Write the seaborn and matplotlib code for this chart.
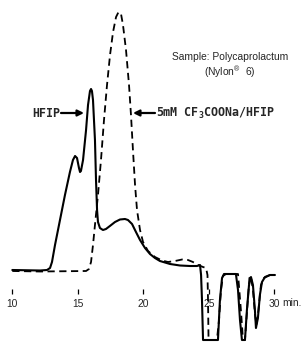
import matplotlib
matplotlib.use("Agg")
import matplotlib.pyplot as plt
import seaborn as sns
import pandas as pd

# ---- data (retention time in min, detector response in arbitrary units) ----
hfip_time = [10.00, 12.11, 12.65, 12.88, 13.03, 13.26, 13.64, 14.02, 14.40, 14.63,
             14.79, 14.94, 15.09, 15.17, 15.24, 15.40, 15.63, 15.78, 15.93, 16.01,
             16.08, 16.16, 16.31, 16.39, 16.47, 16.54, 16.69, 16.92, 17.15, 17.45,
             17.84, 18.22, 18.60, 18.83, 19.14, 19.44, 19.75, 20.13, 20.51, 20.89,
             21.27, 22.04, 22.80, 23.56, 24.10, 24.33, 24.41, 24.48, 24.56, 25.70,
             25.85, 26.01, 26.16, 27.07, 27.23, 27.38, 27.53, 27.76, 27.91, 28.07,
             28.22, 28.37, 28.52, 28.60, 28.75, 28.90, 29.06, 29.29, 29.67, 30.05]
hfip_resp = [0, -0.5, 0, 2, 8, 25, 50, 75, 98, 110,
             114, 112, 102, 98, 99, 110, 140, 165, 179, 181,
             179, 170, 130, 90, 60, 48, 42, 40, 41, 44,
             48, 50.5, 51, 50, 46, 38, 30, 22, 16, 12,
             9, 6, 4.5, 4, 4, 5, -5, -30, -70, -70,
             -30, -8, -4, -4, -20, -50, -70, -70, -40, -15,
             -7, -15, -40, -58, -48, -25, -12, -7, -5, -5]

salt_time = [10.00, 12.11, 15.63, 15.85, 16.01, 16.16, 16.31, 16.54, 16.77, 17.00,
             17.23, 17.46, 17.69, 17.92, 18.11, 18.30, 18.45, 18.68, 18.91, 19.06,
             19.21, 19.37, 19.52, 19.75, 19.98, 20.36, 20.89, 21.43, 21.89, 22.42,
             22.96, 23.41, 23.79, 24.18, 24.56, 24.79, 24.90, 24.94, 24.98, 25.62,
             25.78, 25.93, 26.08, 26.31, 27.23, 27.45, 27.61, 27.76, 27.95, 28.10,
             28.21, 28.37, 28.53, 28.64, 28.79, 28.98, 29.21, 29.67, 30.05]
salt_resp = [-1, -1.5, -1, 1, 8, 25, 45, 75, 110, 150,
             185, 215, 238, 253, 258, 256, 245, 220, 185, 155,
             120, 85, 60, 40, 28, 19, 13, 9.5, 8, 9,
             10.5, 10, 8, 5, 3, 2, -5, -30, -70, -70,
             -50, -20, -6, -4, -4, -40, -70, -70, -35, -8,
             -6, -20, -45, -55, -40, -15, -8, -5, -5]

tick_values = [10, 15, 20, 25, 30]
tick_labels = ["10", "15", "20", "25", "30"]

hfip_df = pd.DataFrame({"time": hfip_time, "resp": hfip_resp})
salt_df = pd.DataFrame({"time": salt_time, "resp": salt_resp})

# ---- figure ----
sns.set_style("white")
plt.rcParams["font.family"] = ["Liberation Sans", "DejaVu Sans"]
plt.rcParams["mathtext.default"] = "regular"

W, H = 306, 346
fig = plt.figure(figsize=(W / 100, H / 100), dpi=100)
ax = fig.add_axes([0, (H - 294) / H, 1, 294 / H])

sns.lineplot(data=hfip_df, x="time", y="resp", ax=ax, color="black", lw=1.5,
             sort=False, estimator=None, clip_on=False)
sns.lineplot(data=salt_df, x="time", y="resp", ax=ax, color="black", lw=1.3,
             sort=False, estimator=None, clip_on=False, linestyle=(0, (4, 2.5)))

ax.set_xlim(9.061, 32.42)
ax.set_ylim(-24, 270)
for sp in ax.spines.values():
    sp.set_visible(False)
ax.set_yticks([])
ax.set_xticks(tick_values)
ax.set_xticklabels(tick_labels)
ax.tick_params(axis="x", direction="in", length=3.6, width=0.9, color="black",
               pad=3.5, labelsize=7.4, bottom=True)
ax.set_xlabel("")
ax.set_ylabel("")
ax.patch.set_alpha(0)

def fx(px):
    return px / W

def fy(py):
    return 1 - py / H

fig.text(fx(282), fy(303), "min.", fontsize=7.4, ha="left", va="center")
fig.text(fx(230.5), fy(57), "Sample: Polycaprolactum", fontsize=7.4,
         ha="center", va="center")
fig.text(fx(230), fy(72), "(Nylon$^{®}$  6)", fontsize=7.4,
         ha="center", va="center")

mono = dict(family="DejaVu Sans Mono", weight="bold", fontsize=8.4)
fig.text(fx(60), fy(113.5), "HFIP", ha="right", va="center", **mono)
fig.text(fx(156), fy(113.5), "5mM CF$_3$COONa/HFIP", ha="left", va="center", **mono)

arrow = dict(arrowstyle="-|>", lw=1.6, color="black", mutation_scale=9,
             shrinkA=0, shrinkB=0)
ax.annotate("", xy=(84, H - 113), xytext=(61, H - 113),
            xycoords="figure pixels", textcoords="figure pixels", arrowprops=arrow)
ax.annotate("", xy=(133, H - 113), xytext=(155, H - 113),
            xycoords="figure pixels", textcoords="figure pixels", arrowprops=arrow)

fig.savefig("out.png", dpi=100)
